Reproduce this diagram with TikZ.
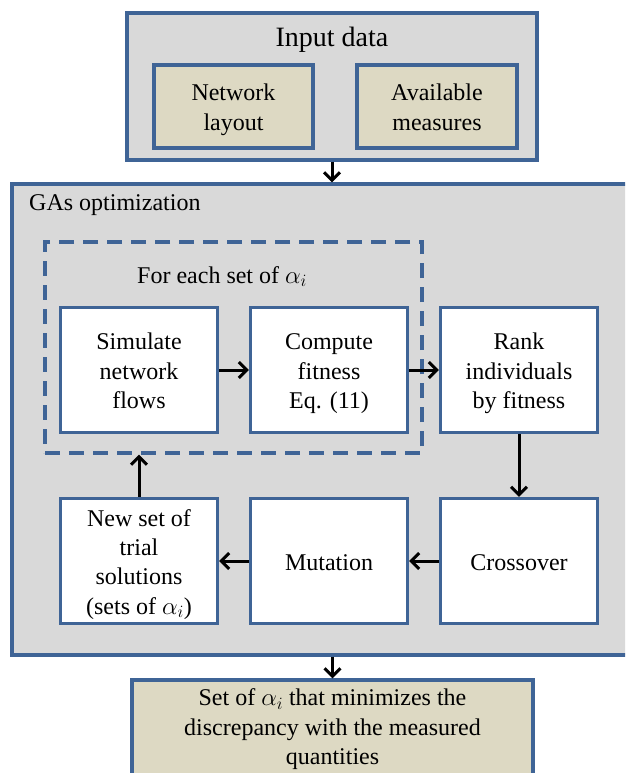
\documentclass[tikz,border=0pt]{standalone}
\usepackage{fontspec}
\setmainfont{Liberation Serif}
\usetikzlibrary{arrows.meta}
\definecolor{bordercol}{HTML}{3F6496}
\definecolor{grayfill}{HTML}{D9D9D9}
\definecolor{tanfill}{HTML}{DDD9C3}
\newcommand{\mlines}[2][-3.2pt]{\raisebox{#1}[\height][\depth]{\begin{tabular}{@{}c@{}}#2\end{tabular}}}
\begin{document}
\begin{tikzpicture}[x=1pt,y=1pt,
  every node/.style={font=\fontsize{24}{29.3}\selectfont},
  frame/.style={draw=bordercol, line width=3.2pt},
  stepbox/.style={frame, fill=white, minimum width=157pt, minimum height=125pt, inner sep=0pt},
  tanbox/.style={frame, fill=tanfill, inner sep=0pt},
  graybox/.style={frame, fill=grayfill, inner sep=0pt},
  arr/.style={-{Straight Barb[length=8pt,width=16pt]}, line width=3pt, black},
]
\useasboundingbox (0,0) rectangle (625,-773);
\clip (0,0) rectangle (625,-773);
% input data
\node[graybox, minimum width=410pt, minimum height=147pt] (input) at (332,-86.5) {};
\node[font=\fontsize{28}{33}\selectfont, anchor=base, inner sep=0pt] (inputlbl) at (332,-47) {Input data};
\node[tanbox, minimum width=159pt, minimum height=83pt] (layout) at (233.5,-106.5) {\mlines{Network\\layout}};
\node[tanbox, minimum width=160pt, minimum height=83pt] (measures) at (437,-106.5) {\mlines{Available\\measures}};
% GAs optimization
\node[graybox, minimum width=633pt, minimum height=471pt] (gas) at (328.5,-419.5) {};
\node[anchor=base west, inner sep=0pt] (gaslbl) at (29,-210) {GAs optimization};
\node[draw=bordercol, line width=3.2pt, dash pattern=on 15pt off 9pt, minimum width=377pt, minimum height=211pt, inner sep=0pt] (loop) at (233.5,-347.5) {};
\node[anchor=base west, inner sep=0pt] (looplbl) at (137,-283) {For each set of $\alpha_i$};
\node[stepbox] (sim) at (139,-370) {\mlines{Simulate\\network\\flows}};
\node[stepbox] (comp) at (329,-370) {\mlines{Compute\\fitness\\Eq. (11)}};
\node[stepbox] (rank) at (519,-370) {\mlines{Rank\\individuals\\by fitness}};
\node[stepbox] (newset) at (139,-561) {\mlines{New set of\\trial\\solutions\\(sets of $\alpha_i$)}};
\node[stepbox] (mut) at (329,-561) {\mlines{Mutation}};
\node[stepbox] (cross) at (519,-561) {\mlines{Crossover}};
% result
\node[tanbox, minimum width=401pt, minimum height=120pt] (result) at (332.5,-740) {\mlines[10.8pt]{Set of $\alpha_i$ that minimizes the\\discrepancy with the measured\\quantities}};
% connectors
\draw[arr] (input.south) -- (input.south |- gas.north);
\draw[arr] (sim.east) -- (comp.west);
\draw[arr] (comp.east) -- (rank.west);
\draw[arr] (rank.south) -- (cross.north);
\draw[arr] (cross.west) -- (mut.east);
\draw[arr] (mut.west) -- (newset.east);
\draw[arr] (newset.north) -- (newset.north |- loop.south);
\draw[arr] (result.north |- gas.south) -- (result.north);
\end{tikzpicture}
\end{document}
